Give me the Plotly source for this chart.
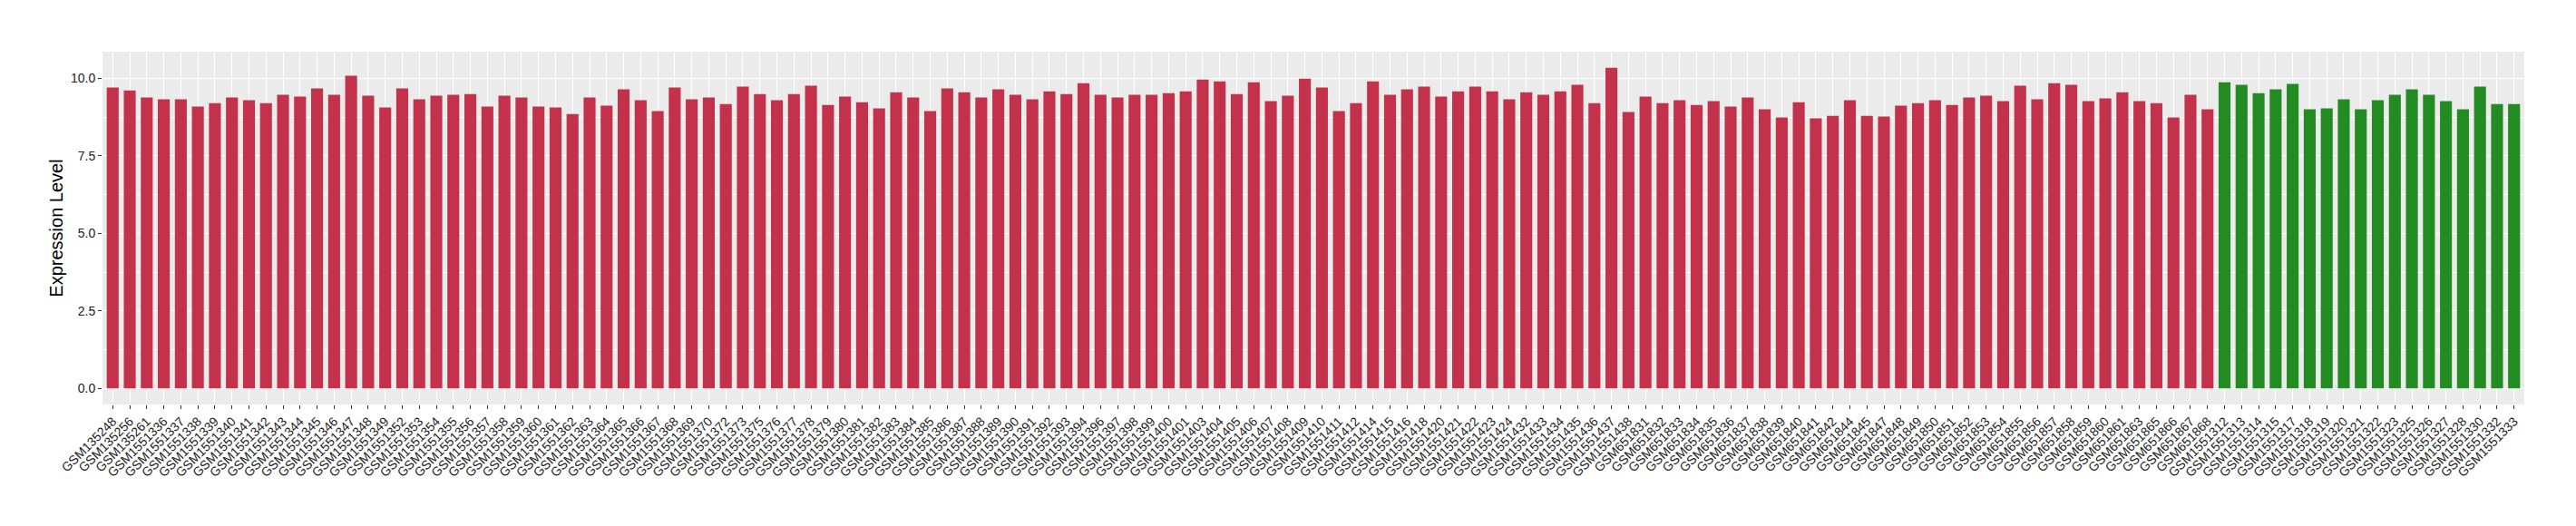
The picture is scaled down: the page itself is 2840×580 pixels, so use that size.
import plotly.graph_objects as go

samples_red = [
    "GSM135248", "GSM135256", "GSM135261", "GSM1551336", "GSM1551337", "GSM1551338", "GSM1551339",
    "GSM1551340", "GSM1551341", "GSM1551342", "GSM1551343", "GSM1551344", "GSM1551345", "GSM1551346",
    "GSM1551347", "GSM1551348", "GSM1551349", "GSM1551352", "GSM1551353", "GSM1551354", "GSM1551355",
    "GSM1551356", "GSM1551357", "GSM1551358", "GSM1551359", "GSM1551360", "GSM1551361", "GSM1551362",
    "GSM1551363", "GSM1551364", "GSM1551365", "GSM1551366", "GSM1551367", "GSM1551368", "GSM1551369",
    "GSM1551370", "GSM1551372", "GSM1551373", "GSM1551375", "GSM1551376", "GSM1551377", "GSM1551378",
    "GSM1551379", "GSM1551380", "GSM1551381", "GSM1551382", "GSM1551383", "GSM1551384", "GSM1551385",
    "GSM1551386", "GSM1551387", "GSM1551388", "GSM1551389", "GSM1551390", "GSM1551391", "GSM1551392",
    "GSM1551393", "GSM1551394", "GSM1551396", "GSM1551397", "GSM1551398", "GSM1551399", "GSM1551400",
    "GSM1551401", "GSM1551403", "GSM1551404", "GSM1551405", "GSM1551406", "GSM1551407", "GSM1551408",
    "GSM1551409", "GSM1551410", "GSM1551411", "GSM1551412", "GSM1551414", "GSM1551415", "GSM1551416",
    "GSM1551418", "GSM1551420", "GSM1551421", "GSM1551422", "GSM1551423", "GSM1551424", "GSM1551432",
    "GSM1551433", "GSM1551434", "GSM1551435", "GSM1551436", "GSM1551437", "GSM1551438", "GSM651831",
    "GSM651832", "GSM651833", "GSM651834", "GSM651835", "GSM651836", "GSM651837", "GSM651838",
    "GSM651839", "GSM651840", "GSM651841", "GSM651842", "GSM651844", "GSM651845", "GSM651847",
    "GSM651848", "GSM651849", "GSM651850", "GSM651851", "GSM651852", "GSM651853", "GSM651854",
    "GSM651855", "GSM651856", "GSM651857", "GSM651858", "GSM651859", "GSM651860", "GSM651861",
    "GSM651863", "GSM651865", "GSM651866", "GSM651867", "GSM651868",
]
values_red = [
    9.70, 9.61, 9.38, 9.32, 9.32, 9.09, 9.20, 9.38, 9.29, 9.20,
    9.47, 9.41, 9.67, 9.47, 10.08, 9.44, 9.06, 9.67, 9.32, 9.44,
    9.47, 9.49, 9.09, 9.44, 9.38, 9.09, 9.06, 8.85, 9.38, 9.12,
    9.64, 9.29, 8.94, 9.70, 9.32, 9.38, 9.17, 9.73, 9.49, 9.29,
    9.49, 9.76, 9.14, 9.41, 9.23, 9.03, 9.55, 9.38, 8.94, 9.67,
    9.55, 9.38, 9.64, 9.47, 9.32, 9.58, 9.49, 9.84, 9.47, 9.38,
    9.47, 9.47, 9.52, 9.58, 9.96, 9.90, 9.49, 9.87, 9.26, 9.44,
    9.99, 9.70, 8.94, 9.20, 9.90, 9.47, 9.64, 9.73, 9.41, 9.58,
    9.73, 9.58, 9.32, 9.55, 9.47, 9.58, 9.79, 9.20, 10.34, 8.91,
    9.41, 9.20, 9.29, 9.14, 9.26, 9.09, 9.38, 9.00, 8.74, 9.23,
    8.71, 8.79, 9.29, 8.79, 8.77, 9.12, 9.20, 9.29, 9.14, 9.38,
    9.44, 9.26, 9.76, 9.32, 9.84, 9.79, 9.26, 9.35, 9.55, 9.26,
    9.20, 8.74, 9.47, 9.00,
]
samples_green = [
    "GSM1551312", "GSM1551313", "GSM1551314", "GSM1551315", "GSM1551317", "GSM1551318",
    "GSM1551319", "GSM1551320", "GSM1551321", "GSM1551322", "GSM1551323", "GSM1551325",
    "GSM1551326", "GSM1551327", "GSM1551328", "GSM1551330", "GSM1551332", "GSM1551333",
]
values_green = [
    9.87, 9.79, 9.52, 9.64, 9.82, 9.00, 9.03, 9.32, 9.00,
    9.29, 9.47, 9.64, 9.47, 9.26, 9.00, 9.73, 9.17, 9.17,
]
y_ticks = [0, 2.5, 5, 7.5, 10]

RED = "#C3314A"
GREEN = "#228B22"

categories = samples_red + samples_green
n = len(categories)

fig = go.Figure()
fig.add_trace(go.Bar(x=samples_red, y=values_red, marker=dict(color=RED, line=dict(width=0)),
                     width=0.7, showlegend=False))
fig.add_trace(go.Bar(x=samples_green, y=values_green, marker=dict(color=GREEN, line=dict(width=0)),
                     width=0.7, showlegend=False))

ymax = max(values_red + values_green)
pad = ymax * 0.05

fig.update_layout(
    width=2840, height=580,
    margin=dict(l=113, r=57, t=57, b=134, autoexpand=False),
    paper_bgcolor="white",
    plot_bgcolor="#EBEBEB",
    font=dict(family="Liberation Sans, Arial, sans-serif", size=14, color="#222222"),
    bargap=0.3,
    xaxis=dict(
        type="category",
        categoryorder="array",
        categoryarray=categories,
        range=[-0.6, n - 1 + 0.6],
        tickangle=-45,
        showgrid=True, gridcolor="white", gridwidth=1.1,
        ticks="outside", ticklen=4, tickcolor="#333333", tickwidth=1,
        tickfont=dict(size=14, color="#222222"),
        zeroline=False, showline=False,
        automargin=False,
    ),
    yaxis=dict(
        range=[-pad, ymax + pad],
        tickvals=y_ticks,
        ticktext=[f"{v:.1f}" for v in y_ticks],
        showgrid=True, gridcolor="white", gridwidth=1.1,
        minor=dict(dtick=1.25, tick0=0, showgrid=True, gridcolor="white", gridwidth=0.5),
        ticks="outside", ticklen=4, tickcolor="#333333", tickwidth=1,
        tickfont=dict(size=14, color="#222222"),
        zeroline=False, showline=False,
        title=dict(text="Expression Level", font=dict(size=20, color="black"), standoff=2),
        automargin=False,
    ),
)

fig.write_html(
    "out.html",
    config={"displayModeBar": False},
    post_script="document.body.style.margin='0';document.body.style.overflow='hidden';",
)
